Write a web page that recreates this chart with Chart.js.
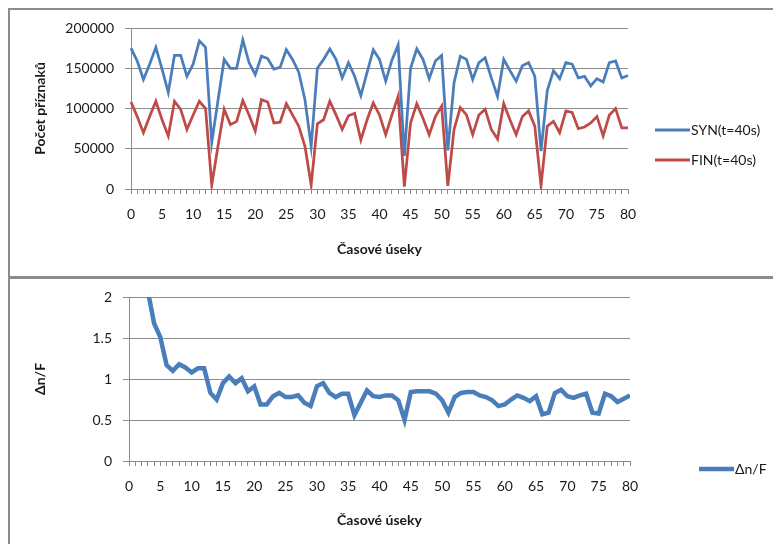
<!DOCTYPE html>
<html>
<head>
<meta charset="utf-8">
<script src="https://cdn.jsdelivr.net/npm/chart.js@4.4.1/dist/chart.umd.min.js"></script>
<style>
  html, body { margin: 0; padding: 0; background: #fff; overflow: hidden; }
  body { width: 773px; height: 544px; position: relative; }
  .panel { position: absolute; left: 8px; width: 800px; border: 2px solid #8c8c8c; box-sizing: border-box; }
  #p1 { top: 8px; height: 270px; }
  #p2 { top: 277px; height: 300px; }
  canvas { position: absolute; left: 0; }
  #c1 { top: 0; width: 773px; height: 276px; }
  #c2 { top: 276px; width: 773px; height: 268px; }
</style>
</head>
<body>
<div class="panel" id="p1"></div>
<div class="panel" id="p2"></div>
<canvas id="c1" width="773" height="276"></canvas>
<canvas id="c2" width="773" height="268"></canvas>
<script>
// časové úseky (osa x)
const useky = [0,1,2,3,4,5,6,7,8,9,10,11,12,13,14,15,16,17,18,19,20,21,22,23,24,25,26,27,28,29,30,
  31,32,33,34,35,36,37,38,39,40,41,42,43,44,45,46,47,48,49,50,51,52,53,54,55,56,57,58,59,60,
  61,62,63,64,65,66,67,68,69,70,71,72,73,74,75,76,77,78,79,80];

const synValues = [
  175000,159000,136000,155000,176000,149000,120000,166000,166000,140000,
  155000,184000,176000,58000,110000,161000,150000,150000,185000,157000,
  142000,165000,162000,149000,151000,173000,161000,145000,111000,53000,
  150000,161000,174000,161000,138000,157000,140000,116000,145000,173000,
  161000,134000,160000,179000,41000,150000,174000,161000,137000,159000,
  166000,48000,132000,165000,161000,136000,157000,163000,138000,115000,
  161000,147000,134000,153000,157000,140000,47000,122000,147000,137000,
  157000,155000,138000,140000,128000,137000,133000,157000,159000,138000,141000
];

const finValues = [
  108000,90000,70000,90000,109000,86000,66000,109000,99000,74000,
  92000,109000,100000,5000,53000,99000,80000,84000,110000,92000,
  72000,111000,108000,82000,83000,106000,92000,78000,53000,5000,
  81000,86000,109000,92000,74000,91000,94000,61000,86000,107000,
  92000,67500,92000,115000,3000,82000,106000,88000,67500,90000,
  103000,4000,74000,101000,92000,67500,92000,99000,74000,62000,
  106000,86000,67500,90000,97000,78000,4000,78000,84000,70000,
  97000,95000,75000,77000,82000,90000,66000,92000,100000,76000,76000
];

const deltaValues = [
  4.2,3.1,2.5,2.08,1.68,1.51,1.17,1.10,1.18,1.14,
  1.08,1.13,1.13,0.83,0.75,0.95,1.03,0.95,1.01,0.85,
  0.91,0.69,0.69,0.79,0.83,0.78,0.78,0.80,0.71,0.67,
  0.91,0.95,0.83,0.78,0.82,0.82,0.56,0.71,0.86,0.79,
  0.78,0.80,0.80,0.74,0.50,0.84,0.85,0.85,0.85,0.82,
  0.74,0.59,0.78,0.83,0.84,0.84,0.80,0.78,0.74,0.67,
  0.69,0.75,0.80,0.77,0.73,0.79,0.57,0.59,0.83,0.87,
  0.79,0.77,0.80,0.82,0.59,0.58,0.82,0.79,0.72,0.76,0.80
];

const topTicks = [0, 50000, 100000, 150000, 200000];
const bottomTicks = [0, 0.5, 1, 1.5, 2];

const FONT = "Lato, 'Open Sans', sans-serif";
const GRID = "#8c8c8c";
const BLUE = "#4a7ebb";
const RED = "#be4b48";

// legend drawn by hand so it can sit where Excel put it
const lineLegend = {
  id: "lineLegend",
  afterDraw(chart, args, opts) {
    const ctx = chart.ctx;
    ctx.save();
    chart.data.datasets.forEach((ds, i) => {
      const y = opts.y + i * opts.gap;
      ctx.strokeStyle = ds.borderColor;
      ctx.lineWidth = opts.lineWidth;
      ctx.beginPath();
      ctx.moveTo(opts.x, y);
      ctx.lineTo(opts.x + opts.len, y);
      ctx.stroke();
      ctx.fillStyle = "#1a1a1a";
      ctx.font = "14px " + FONT;
      ctx.textBaseline = "middle";
      ctx.fillText(ds.label, opts.x + opts.len + 1, y);
    });
    ctx.restore();
  }
};

function makeChart(id, o) {
  return new Chart(document.getElementById(id), {
    type: "line",
    data: { labels: useky, datasets: o.datasets },
    plugins: [lineLegend],
    options: {
      responsive: false,
      animation: false,
      layout: { padding: { left: 28, right: o.right, top: o.top, bottom: 0 } },
      elements: { point: { radius: 0 }, line: { tension: 0 } },
      plugins: {
        legend: { display: false },
        tooltip: { enabled: false },
        lineLegend: o.legend
      },
      scales: {
        x: {
          type: "category",
          offset: false,
          afterFit: s => { s.height = o.xHeight; },
          grid: { drawOnChartArea: false, drawTicks: true, tickLength: 5, color: GRID },
          border: { color: GRID },
          ticks: {
            autoSkip: false, maxRotation: 0, padding: 12,
            color: "#1a1a1a", font: { family: FONT, size: 14 },
            callback: (v, i) => (i % 5 === 0 ? String(useky[i]) : "")
          },
          title: {
            display: true, text: "Časové úseky", color: "#1a1a1a",
            font: { family: FONT, size: 14, weight: "bold" },
            padding: { top: 0, bottom: o.titleBottom }
          }
        },
        y: {
          min: 0, max: o.yTicks[o.yTicks.length - 1],
          afterFit: s => { s.width = o.yWidth; },
          afterBuildTicks: s => { s.ticks = o.yTicks.map(v => ({ value: v })); },
          grid: { color: GRID, tickLength: 6 },
          border: { color: GRID },
          ticks: {
            padding: 11, color: "#1a1a1a", font: { family: FONT, size: 14 },
            callback: v => String(v)
          },
          title: {
            display: true, text: o.yTitle, color: "#1a1a1a",
            font: { family: FONT, size: 14, weight: "bold" },
            padding: { top: 4, bottom: 4 }
          }
        }
      }
    }
  });
}

makeChart("c1", {
  top: 28, right: 145, xHeight: 87, yWidth: 103, titleBottom: 18,
  yTicks: topTicks, yTitle: "Počet příznaků",
  legend: { x: 655, y: 130, gap: 30, len: 35, lineWidth: 3 },
  datasets: [
    { label: "SYN(t=40s)", data: synValues, borderColor: BLUE, borderWidth: 2.75 },
    { label: "FIN(t=40s)", data: finValues, borderColor: RED, borderWidth: 2.75 }
  ]
});

makeChart("c2", {
  top: 21, right: 143, xHeight: 83, yWidth: 101, titleBottom: 15,
  yTicks: bottomTicks, yTitle: "Δn/F",
  legend: { x: 699, y: 193, gap: 30, len: 35, lineWidth: 4.5 },
  datasets: [
    { label: "Δn/F", data: deltaValues, borderColor: BLUE, borderWidth: 4.5, clip: 0 }
  ]
});
</script>
</body>
</html>
